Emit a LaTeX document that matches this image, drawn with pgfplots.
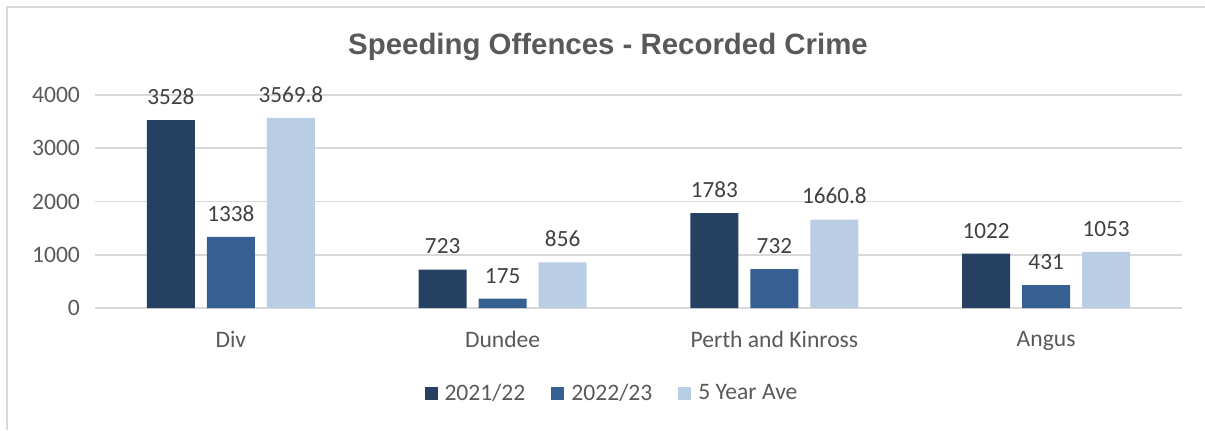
\documentclass[border=0pt]{standalone}
\usepackage{fontspec}
\setmainfont{Carlito}
\newfontfamily\titlefont{Liberation Sans}
\usepackage{pgfplots}
\pgfplotsset{compat=1.18}
\definecolor{cA}{RGB}{38,64,97}
\definecolor{cB}{RGB}{55,96,146}
\definecolor{cC}{RGB}{185,205,229}
\definecolor{gridc}{RGB}{217,217,217}
\definecolor{tickc}{RGB}{89,89,89}
\definecolor{labc}{RGB}{64,64,64}
\begin{document}
\begin{tikzpicture}
\useasboundingbox (0,0) rectangle (602.5pt,-215pt);
\draw[gridc, line width=0.7pt] (3.5pt,-215pt) -- (3.5pt,-3.5pt) -- (602.5pt,-3.5pt);
\node[text=tickc, font=\titlefont\bfseries\fontsize{14.7}{17}\selectfont] at (304pt,-23.5pt) {Speeding Offences - Recorded Crime};
\begin{axis}[
  at={(47.5pt,-154pt)}, anchor=south west,
  scale only axis, width=543.5pt, height=106.5pt,
  xmin=-0.5, xmax=3.5, ymin=0, ymax=4000,
  ybar=6pt, bar width=24pt,
  xtick={0,1,2,3},
  xticklabels={Div,Dundee,Perth and Kinross,Angus},
  ytick={0,1000,2000,3000,4000},
  ymajorgrids, major grid style={gridc, line width=0.8pt},
  axis line style={draw=none},
  major tick length=0pt,
  tick label style={font=\fontsize{11.8}{13}\selectfont, text=tickc},
  /pgf/number format/assume math mode=true,
  /pgf/number format/1000 sep={},
  yticklabel style={xshift=-4pt},
  xticklabel style={yshift=-8pt},
  point meta=explicit symbolic,
  nodes near coords,
  nodes near coords style={font=\fontsize{11.6}{13}\selectfont, text=labc, anchor=south, inner sep=0pt, yshift=7.5pt},
  legend columns=3,
  legend style={draw=none, fill=none, at={(0.4765,-0.402)}, anchor=center,
    font=\fontsize{11.8}{13}\selectfont, text=tickc,
    /tikz/every odd column/.append style={column sep=1.5pt},
    /tikz/every even column/.append style={column sep=11pt}},
  legend image code/.code={\fill[#1] (0pt,-3.25pt) rectangle (6.5pt,3.25pt);},
]
\addplot[fill=cA, draw=none] coordinates {(0,3528)[3528] (1,723)[723] (2,1783)[1783] (3,1022)[1022]};
\addplot[fill=cB, draw=none] coordinates {(0,1338)[1338] (1,175)[175] (2,732)[732] (3,431)[431]};
\addplot[fill=cC, draw=none] coordinates {(0,3569.8)[3569.8] (1,856)[856] (2,1660.8)[1660.8] (3,1053)[1053]};
\legend{2021/22,2022/23,5 Year Ave}
\end{axis}
\end{tikzpicture}
\end{document}
